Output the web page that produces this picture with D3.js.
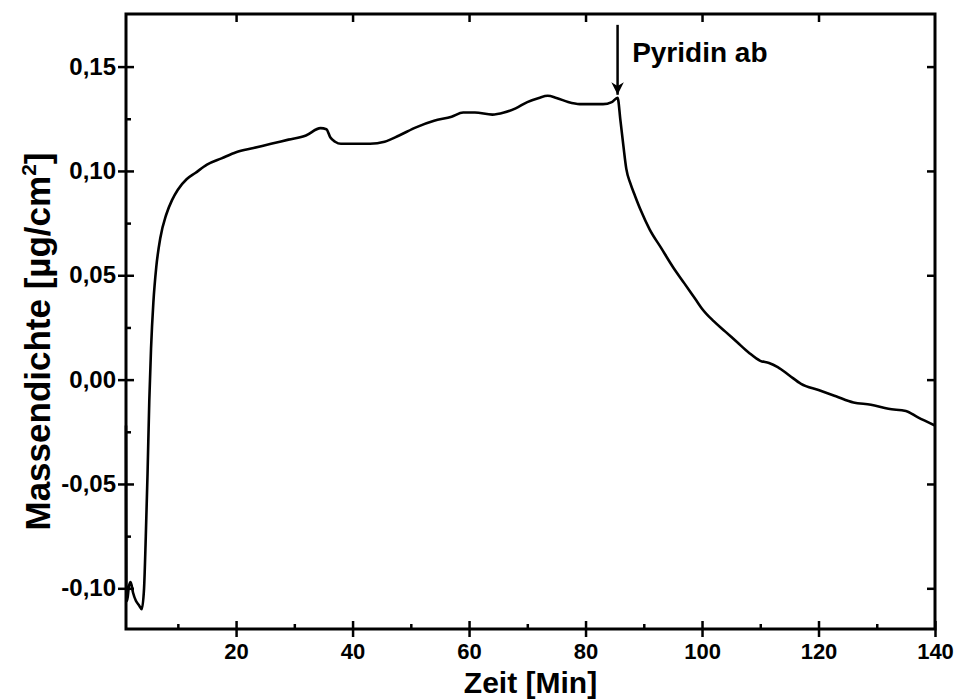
<!DOCTYPE html>
<html>
<head>
<meta charset="utf-8">
<script src="https://cdn.jsdelivr.net/npm/d3@7"></script>
<style>
  body { margin: 0; background: #fff; }
  svg text { font-family: "Liberation Sans", Arial, sans-serif; font-weight: bold; fill: #000; }
</style>
</head>
<body>
<div id="container"></div>
<script>
/* DATA */
const time = [1.1, 1.15, 1.3, 1.6, 1.9, 2.3, 2.8, 3.3, 3.8, 4.2, 4.5, 4.8, 5.1, 5.4, 5.8, 6.3, 7.0, 8.0, 9.0, 10.0,
  11.5, 13, 15, 17.5, 20, 23, 26, 29, 32, 34.5, 35.5, 36.2, 37, 38, 40, 43, 45.5, 48, 51, 54,
  57, 59, 61, 64, 66, 68, 70, 72, 73.5, 75, 77, 79, 81, 83, 84.5, 85.5, 86.0, 86.5, 87.0, 87.7,
  88.5, 89.5, 91, 93, 95, 97, 99, 100, 102, 104, 106, 108, 110, 111.5, 113, 115, 117, 120, 123, 126,
  129, 132, 135, 137, 140];
const mass = [-0.022, -0.100, -0.106, -0.099, -0.097, -0.102, -0.106, -0.108, -0.110, -0.100, -0.075, -0.045, -0.010, 0.015, 0.037, 0.054, 0.068, 0.079, 0.086, 0.091,
  0.096, 0.099, 0.103, 0.106, 0.109, 0.111, 0.113, 0.115, 0.117, 0.1205, 0.120, 0.116, 0.114, 0.113, 0.113, 0.113, 0.114, 0.117, 0.121, 0.124,
  0.126, 0.128, 0.128, 0.127, 0.128, 0.130, 0.133, 0.135, 0.136, 0.135, 0.133, 0.132, 0.132, 0.132, 0.133, 0.135, 0.124, 0.112, 0.101, 0.094,
  0.088, 0.081, 0.072, 0.063, 0.054, 0.046, 0.038, 0.034, 0.028, 0.023, 0.018, 0.013, 0.009, 0.008, 0.006, 0.002, -0.002, -0.005, -0.008, -0.011,
  -0.012, -0.014, -0.015, -0.018, -0.022];

const xMajor = [20, 40, 60, 80, 100, 120, 140];
const xMinor = [10, 30, 50, 70, 90, 110, 130];
const yMajor = [-0.10, -0.05, 0.00, 0.05, 0.10, 0.15];
const yMinor = [-0.075, -0.025, 0.025, 0.075, 0.125];

// annotation: arrow tip / tail and label anchor in data units
const note = { text: "Pyridin ab", t: 85.5, tipY: 0.1365, tailY: 0.170, labelT: 88, labelY: 0.152 };

/* CONSTANTS */
const width = 956;
const height = 700;
const margin = { top: 14, right: 21, bottom: 71, left: 126 };

const svg = d3.select("#container")
  .append("svg")
  .attr("width", width)
  .attr("height", height);

/* SCALES */
const xScale = d3.scaleLinear()
  .domain([1.1, 140])
  .range([margin.left, width - margin.right]);

const yScale = d3.scaleLinear()
  .domain([-0.1195, 0.1752])
  .range([height - margin.bottom, margin.top]);

const fmt = d => d3.format(".2f")(d).replace(".", ",").replace("\u2212", "-");
const bottomY = height - margin.bottom;
const rightX = width - margin.right;

/* AXES */
function style(g) {
  g.select(".domain").remove();
  g.selectAll("line").attr("stroke", "#000").attr("stroke-width", 2.5);
}

// bottom: major ticks outward with labels, plus inward half, minor inward
svg.append("g").attr("transform", `translate(0,${bottomY})`)
  .call(d3.axisBottom(xScale).tickValues(xMajor).tickSize(8).tickPadding(6).tickFormat(d3.format("d")))
  .call(style)
  .call(g => g.selectAll("text").style("font-size", "22px"));
svg.append("g").attr("transform", `translate(0,${bottomY})`)
  .call(d3.axisBottom(xScale).tickValues(xMajor).tickSize(-8).tickFormat(""))
  .call(style);
svg.append("g").attr("transform", `translate(0,${bottomY})`)
  .call(d3.axisBottom(xScale).tickValues(xMinor).tickSize(-5).tickFormat(""))
  .call(style);

// top: inward major ticks
svg.append("g").attr("transform", `translate(0,${margin.top})`)
  .call(d3.axisTop(xScale).tickValues(xMajor.slice(0, -1)).tickSize(-8).tickFormat(""))
  .call(style);

// left
svg.append("g").attr("transform", `translate(${margin.left},0)`)
  .call(d3.axisLeft(yScale).tickValues(yMajor).tickSize(8).tickPadding(2).tickFormat(fmt))
  .call(style)
  .call(g => g.selectAll("text").style("font-size", "24px"));
svg.append("g").attr("transform", `translate(${margin.left},0)`)
  .call(d3.axisLeft(yScale).tickValues(yMajor).tickSize(-8).tickFormat(""))
  .call(style);
svg.append("g").attr("transform", `translate(${margin.left},0)`)
  .call(d3.axisLeft(yScale).tickValues(yMinor).tickSize(-5).tickFormat(""))
  .call(style);

// right: inward major ticks
svg.append("g").attr("transform", `translate(${rightX},0)`)
  .call(d3.axisRight(yScale).tickValues(yMajor).tickSize(-8).tickFormat(""))
  .call(style);

// frame
svg.append("rect")
  .attr("x", margin.left)
  .attr("y", margin.top)
  .attr("width", rightX - margin.left)
  .attr("height", bottomY - margin.top)
  .attr("fill", "none")
  .attr("stroke", "#000")
  .attr("stroke-width", 3);

/* LINE */
const line = d3.line()
  .x((d, i) => xScale(time[i]))
  .y(d => yScale(d))
  .curve(d3.curveMonotoneX);

svg.append("path")
  .datum(mass)
  .attr("d", line)
  .attr("fill", "none")
  .attr("stroke", "#000")
  .attr("stroke-width", 2.6)
  .attr("stroke-linejoin", "round");

/* ANNOTATION */
svg.append("defs").append("marker")
  .attr("id", "head")
  .attr("viewBox", "0 0 10 10")
  .attr("refX", 10).attr("refY", 5)
  .attr("markerWidth", 7).attr("markerHeight", 5)
  .attr("markerUnits", "strokeWidth")
  .attr("orient", "auto")
  .append("path").attr("d", "M0,0 L10,5 L0,10 L3,5 Z").attr("fill", "#000");

svg.append("line")
  .attr("x1", xScale(note.t)).attr("x2", xScale(note.t))
  .attr("y1", yScale(note.tailY)).attr("y2", yScale(note.tipY))
  .attr("stroke", "#000")
  .attr("stroke-width", 2.5)
  .attr("marker-end", "url(#head)");

svg.append("text")
  .attr("x", xScale(note.labelT))
  .attr("y", yScale(note.labelY))
  .style("font-size", "28px")
  .text(note.text);

/* TITLES */
svg.append("text")
  .attr("x", (margin.left + rightX) / 2)
  .attr("y", 693)
  .attr("text-anchor", "middle")
  .style("font-size", "30px")
  .text("Zeit [Min]");

const yTitle = svg.append("text")
  .attr("transform", `translate(50,${(margin.top + bottomY) / 2 + 20}) rotate(-90)`)
  .attr("text-anchor", "middle")
  .style("font-size", "35px");
yTitle.append("tspan").text("Massendichte [µg/cm");
yTitle.append("tspan").attr("dy", -14).style("font-size", "21px").text("2");
yTitle.append("tspan").attr("dy", 14).text("]");
</script>
</body>
</html>
